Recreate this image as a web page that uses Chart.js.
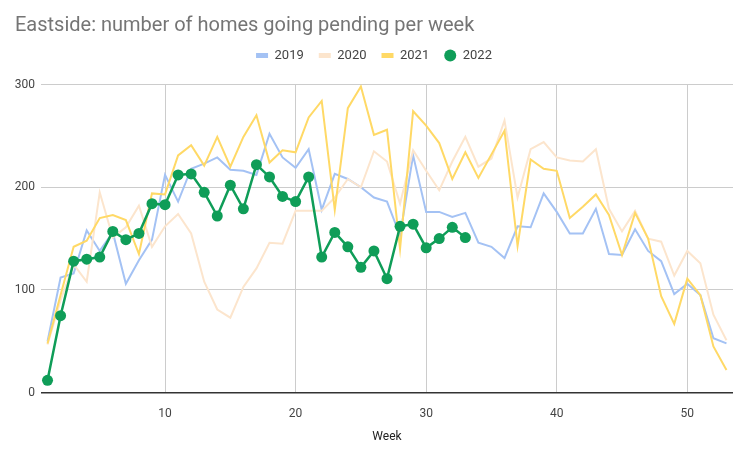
<!DOCTYPE html>
<html><head><meta charset="utf-8">
<script src="https://cdn.jsdelivr.net/npm/chart.js@4"></script>
<style>html,body{margin:0;padding:0;background:#fff;overflow:hidden}canvas{display:block}</style>
</head><body>
<canvas id="c" width="750" height="457" style="width:750px;height:457px"></canvas>
<script>
const weeks = [1,2,3,4,5,6,7,8,9,10,11,12,13,14,15,16,17,18,19,20,21,22,23,24,25,26,27,28,29,30,31,32,33,34,35,36,37,38,39,40,41,42,43,44,45,46,47,48,49,50,51,52,53];
const xTicks = [10, 20, 30, 40, 50];
const yTicks = [0, 100, 200, 300];
const seriesNames = ['2019', '2020', '2021', '2022'];
const values2019 = [50,112,116,158,138,156,106,129,149,212,186,218,223,229,217,216,212,252,229,219,237,178,213,208,200,190,186,153,231,176,176,171,175,146,142,131,162,161,194,176,155,155,179,135,134,159,138,128,96,106,95,53,48];
const values2020 = [47,90,125,108,195,151,161,182,142,162,174,155,108,81,73,103,121,146,145,177,177,177,190,208,200,235,225,184,236,216,197,225,249,220,228,265,190,237,244,229,226,225,237,179,157,177,150,147,114,138,126,76,51];
const values2021 = [48,95,142,148,170,173,168,135,194,193,231,241,221,249,220,249,270,224,236,234,268,284,178,277,298,251,256,140,274,260,243,208,234,209,232,255,143,227,218,216,170,181,193,173,134,175,150,94,67,111,95,45,22];
const values2022 = [12,75,128,130,132,157,149,155,184,183,212,213,195,172,202,179,222,210,191,186,210,132,156,142,122,138,111,162,164,141,150,161,151];

const colors = ['#a4c2f4', '#fce5cd', '#ffd966', '#0f9d58'];
const toPts = vals => vals.map((v, i) => ({x: weeks[i], y: v}));
const FONT = 'Roboto';

// adds space between the legend row and the plot area
const legendSpacer = {
  id: 'legendSpacer',
  beforeLayout(chart) {
    const lg = chart.legend;
    if (lg && !lg._spacerPatched) {
      const orig = lg.fit;
      lg.fit = function () { orig.call(this); this.height += 12.5; };
      lg._spacerPatched = true;
    }
  }
};

new Chart(document.getElementById('c'), {
  type: 'line',
  data: {
    datasets: [
      {label: seriesNames[0], data: toPts(values2019), borderColor: colors[0], backgroundColor: colors[0], borderWidth: 2, pointRadius: 0, tension: 0, order: 3},
      {label: seriesNames[1], data: toPts(values2020), borderColor: colors[1], backgroundColor: colors[1], borderWidth: 2, pointRadius: 0, tension: 0, order: 2},
      {label: seriesNames[2], data: toPts(values2021), borderColor: colors[2], backgroundColor: colors[2], borderWidth: 2, pointRadius: 0, tension: 0, order: 1},
      {label: seriesNames[3], data: toPts(values2022), borderColor: colors[3], backgroundColor: colors[3], borderWidth: 2.5, pointRadius: 5.5, pointBorderWidth: 0, pointBackgroundColor: colors[3], tension: 0, order: 0}
    ]
  },
  plugins: [legendSpacer],
  options: {
    responsive: false,
    animation: false,
    devicePixelRatio: 1,
    layout: {padding: {left: 15, right: 17, top: 0, bottom: 0}},
    plugins: {
      title: {
        display: true,
        text: 'Eastside: number of homes going pending per week',
        align: 'start',
        color: '#757575',
        font: {family: FONT, size: 20, weight: 'normal'},
        padding: {top: 14, bottom: -4}
      },
      legend: {
        display: true,
        position: 'top',
        align: 'center',
        labels: {
          usePointStyle: true,
          pointStyleWidth: 12,
          boxHeight: 8.5,
          padding: 15,
          color: '#444',
          font: {family: FONT, size: 13},
          generateLabels: chart => chart.data.datasets.map((ds, i) => ({
            text: ds.label,
            datasetIndex: i,
            fillStyle: colors[i],
            strokeStyle: colors[i],
            fontColor: '#444',
            lineWidth: i < 3 ? 5 : 0,
            lineCap: 'butt',
            pointStyle: i < 3 ? 'line' : 'circle',
            hidden: false
          }))
        }
      },
      tooltip: {enabled: false}
    },
    scales: {
      x: {
        type: 'linear',
        min: 0.5,
        max: 53.5,
        afterBuildTicks: s => { s.ticks = xTicks.map(v => ({value: v})); },
        ticks: {color: '#444', font: {family: FONT, size: 12}, padding: 14, maxRotation: 0, autoSkip: false},
        grid: {color: '#cccccc', drawTicks: false, lineWidth: 1},
        border: {display: false},
        title: {display: true, text: 'Week', color: '#222', font: {family: FONT, size: 12}, padding: {top: 0, bottom: 13}},
        afterFit: s => { s.height = 64.3; }
      },
      y: {
        min: 0,
        max: 300,
        afterBuildTicks: s => { s.ticks = yTicks.map(v => ({value: v})); },
        ticks: {color: '#444', font: {family: FONT, size: 12}, padding: 6},
        grid: {color: c => (c.tick && c.tick.value === 0) ? '#333333' : '#cccccc', lineWidth: c => (c.tick && c.tick.value === 0) ? 1.5 : 1, drawTicks: false},
        border: {display: false},
        afterFit: s => { s.width = 26; }
      }
    }
  }
});
</script>
</body></html>
